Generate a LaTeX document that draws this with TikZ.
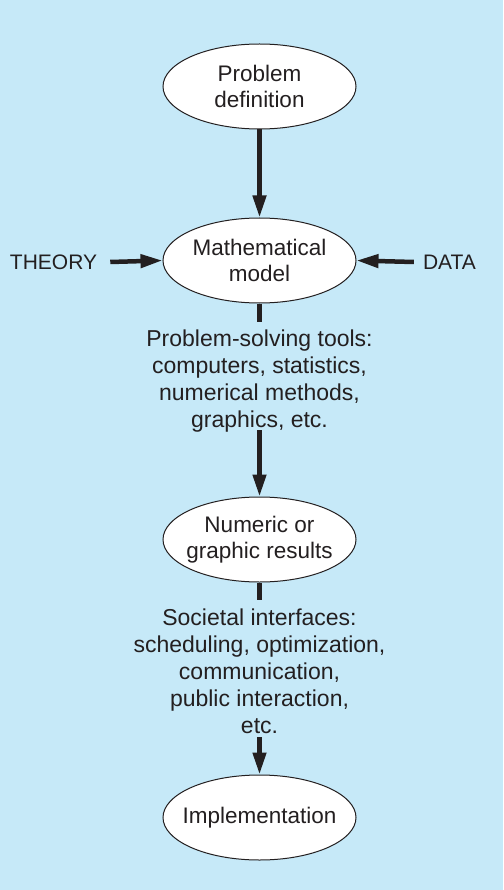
\documentclass[tikz,border=0pt]{standalone}
\usepackage{fontspec}
\setmainfont{Liberation Sans}
\usetikzlibrary{shapes.geometric,arrows.meta}
\definecolor{bgblue}{RGB}{198,233,248}
\definecolor{ink}{RGB}{35,31,32}
\newcommand\zwline[1]{\makebox[0pt]{#1}}
\begin{document}
\begin{tikzpicture}[x=1pt,y=-1pt,
  oval/.style={ellipse,draw=ink,line width=1pt,fill=white,minimum width=193pt,minimum height=85pt,inner sep=0pt,align=center,text=ink,font=\fontsize{22.5}{25.5}\selectfont},
  lbl/.style={align=center,text=ink,inner sep=0pt,font=\fontsize{23}{27}\selectfont},
  side/.style={text=ink,inner sep=0pt,font=\fontsize{21}{25}\selectfont},
  conn/.style={draw=ink,line width=4.5pt},
  arr/.style={conn,-{Triangle[length=22pt,width=13pt]}}
]
\fill[bgblue] (0,0) rectangle (503,890);
\useasboundingbox (0,0) rectangle (503,890);

\node[oval] (e1) at (259.5,86.5) {\zwline{Problem}\\\zwline{definition}};
\node[oval] (e2) at (259.5,260.5) {\zwline{Mathematical}\\\zwline{model}};
\node[oval] (e3) at (259.5,539.5) {\zwline{Numeric or}\\\zwline{graphic results}};
\node[oval] (e4) at (259.5,817.5) {\zwline{Implementation}};

\node[side] (theory) at (53.5,262) {THEORY};
\node[side] (data) at (449.5,262) {DATA};

\node[lbl] (tools) at (259.5,381) {Problem-solving tools:\\computers, statistics,\\numerical methods,\\graphics, etc.};
\node[lbl] (soc) at (259.5,671) {Societal interfaces:\\scheduling, optimization,\\communication,\\public interaction,\\etc.};

\coordinate (s1) at (259.5,322);
\coordinate (s2) at (259.5,430);
\coordinate (s3) at (259.5,600);
\coordinate (s4) at (259.5,737);

\draw[arr] (e1.south) -- (e2.north);
\draw[arr] (theory.east) ++(13,0) coordinate (t1) -- (e2.west);
\draw[arr] (data.west) ++(-9,0) coordinate (d1) -- (e2.east);
\draw[conn] (e2.south) -- (s1);
\draw[arr] (s2) -- (e3.north);
\draw[conn] (e3.south) -- (s3);
\draw[arr] (s4) -- (e4.north);
\end{tikzpicture}
\end{document}
